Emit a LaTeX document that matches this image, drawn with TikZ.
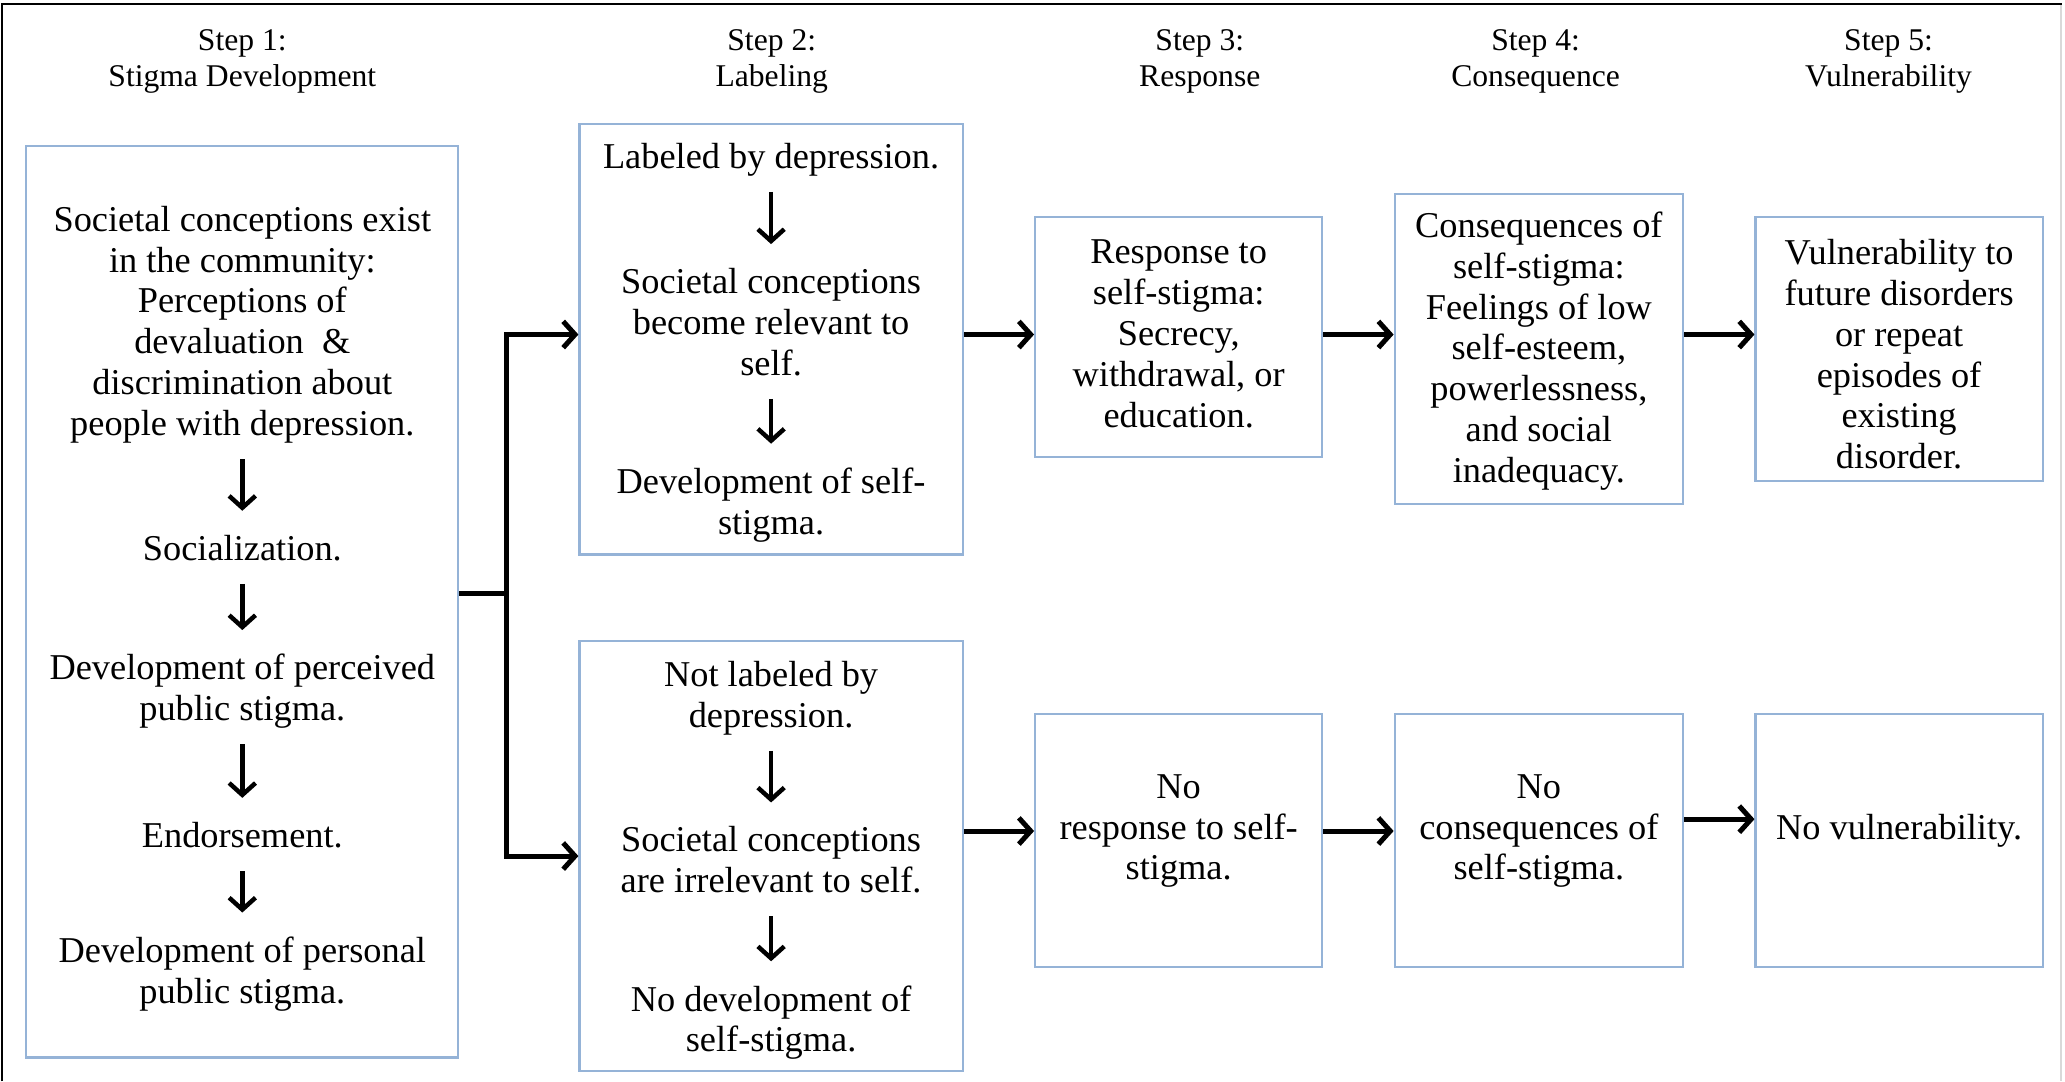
\documentclass[tikz,border=0pt]{standalone}
\usepackage{fontspec}
\setmainfont{Liberation Serif}
\usetikzlibrary{arrows.meta}
\definecolor{boxblue}{RGB}{149,179,215}
\tikzset{>/.tip={Straight Barb[length=4.5pt,width=10pt]}}

\begin{document}
\begin{tikzpicture}[x=0.5pt,y=-0.5pt,
  box/.style={draw=boxblue, line width=0.8pt, inner sep=0pt},
  txt/.style={align=center, inner sep=0pt, yshift=-1.5pt, font=\fontsize{13.8}{15.5}\selectfont},
  head/.style={align=center, inner sep=0pt, yshift=-1.5pt, font=\fontsize{12}{13.5}\selectfont},
  link/.style={line width=1.9pt},
  dn/.style={->, line width=1.7pt}]
\useasboundingbox (0,0) rectangle (1568,821);
\draw[line width=0.9pt] (1.5,821) -- (1.5,3) -- (1566,3);
\draw[black!15, line width=1pt] (1565,4) -- (1565,821);

% headings
\foreach \x/\n/\t in {184/1/Stigma Development, 586/2/Labeling, 911/3/Response,
                      1166/4/Consequence, 1434/5/Vulnerability}
  \node[head] (step\n) at (\x,43.5) {Step \n:\\\t};

% boxes
\node[box, minimum width=164pt, minimum height=346pt] (devel) at (184,457) {};
\node[box, minimum width=145.5pt, minimum height=163.5pt] (labyes) at (585.5,257.5) {};
\node[box, minimum width=145.5pt, minimum height=163pt] (labno) at (585.5,650) {};
\node[box, minimum width=109pt, minimum height=91pt] (respyes) at (895,256) {};
\node[box, minimum width=109pt, minimum height=96pt] (respno) at (895,638) {};
\node[box, minimum width=109.5pt, minimum height=118pt] (consyes) at (1168.5,265) {};
\node[box, minimum width=109.5pt, minimum height=96pt] (consno) at (1168.5,638) {};
\node[box, minimum width=109pt, minimum height=100pt] (vulnyes) at (1442,265) {};
\node[box, minimum width=109pt, minimum height=96pt] (vulnno) at (1442,638) {};

% step 1
\node[txt] (d1) at (184,243.5) {Societal conceptions exist\\in the community:\\Perceptions of\\devaluation\ \ \&\\discrimination about\\people with depression.};
\node[txt] (d2) at (184,413) {Socialization.};
\node[txt] (d3) at (184,522) {Development of perceived\\public stigma.};
\node[txt] (d4) at (184,631) {Endorsement.};
\node[txt] (d5) at (184,736.5) {Development of personal\\public stigma.};

% step 2
\node[txt] (ly1) at (585.5,118) {Labeled by depression.};
\node[txt] (ly2) at (585.5,241.5) {Societal conceptions\\become relevant to\\self.};
\node[txt] (ly3) at (585.5,380.5) {Development of self-\\stigma.};
\node[txt] (ln1) at (585.5,527) {Not labeled by\\depression.};
\node[txt] (ln2) at (585.5,650) {Societal conceptions\\are irrelevant to self.};
\node[txt] (ln3) at (585.5,773.5) {No development of\\self-stigma.};

% steps 3 to 5
\node[txt] (ry) at (895,250.5) {Response to\\self-stigma:\\Secrecy,\\withdrawal, or\\education.};
\node[txt] (rn) at (895,628) {No\\response to self-\\stigma.};
\node[txt] (cy) at (1168.5,263.5) {Consequences of\\self-stigma:\\Feelings of low\\self-esteem,\\powerlessness,\\and social\\inadequacy.};
\node[txt] (cn) at (1168.5,628) {No\\consequences of\\self-stigma.};
\node[txt] (vy) at (1442,266) {Vulnerability to\\future disorders\\or repeat\\episodes of\\existing\\disorder.};
\node[txt] (vn) at (1442,628) {No vulnerability.};

% arrows inside the boxes
\foreach \a/\b in {d1/d2, d2/d3, d3/d4, d4/d5, ly1/ly2, ly2/ly3, ln1/ln2, ln2/ln3}
  \draw[dn] ([yshift=-9pt]\a.base) -- ([yshift=9pt]\b.north);

% fork
\draw[link] ([yshift=3pt]devel.east) -- ++(36,0) coordinate (fork);
\draw[link,->] (fork) |- ([yshift=1.75pt]labyes.west);
\draw[link,->] (fork) |- (labno.west);

\foreach \a/\b in {labyes/respyes, respyes/consyes, consyes/vulnyes}
  \draw[link,->] ([yshift=1.75pt]labyes.east -| \a.east) -- ([yshift=1.75pt]labyes.east -| \b.west);
\foreach \a/\b in {labno/respno, respno/consno}
  \draw[link,->] ([yshift=3.5pt]\b.west -| \a.east) -- ([yshift=3.5pt]\b.west);
\draw[link,->] ([yshift=8pt]vulnno.west -| consno.east) -- ([yshift=8pt]vulnno.west);
\end{tikzpicture}
\end{document}
